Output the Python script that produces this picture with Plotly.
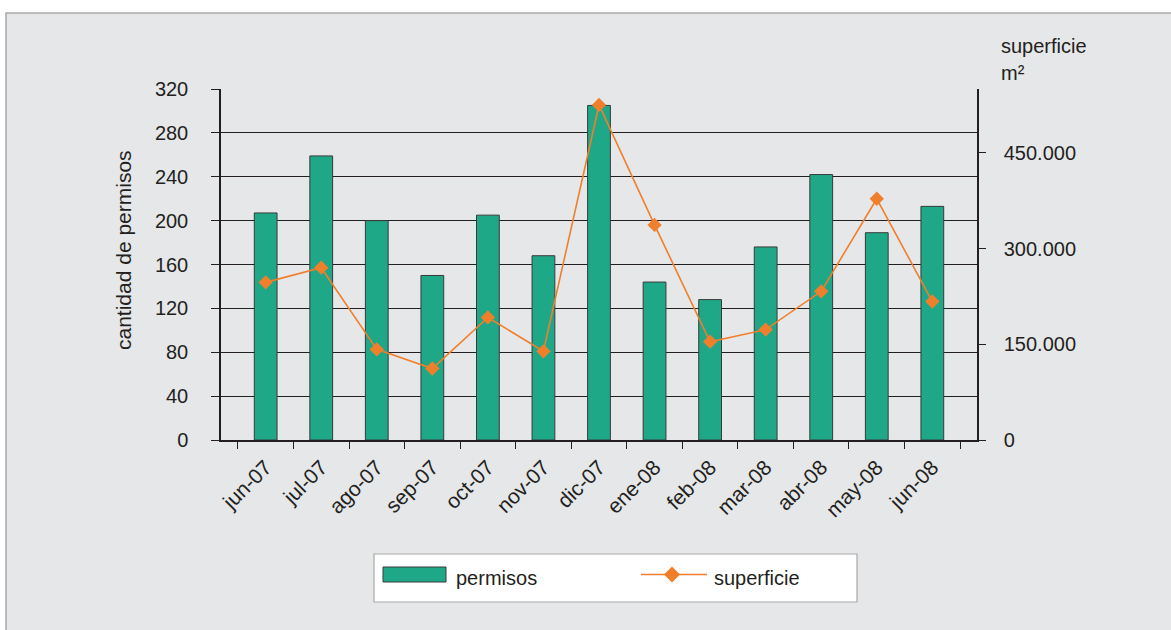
import plotly.graph_objects as go

months = ["jun-07", "jul-07", "ago-07", "sep-07", "oct-07", "nov-07", "dic-07",
          "ene-08", "feb-08", "mar-08", "abr-08", "may-08", "jun-08"]
permisos = [207, 259, 200, 150, 205, 168, 305, 144, 128, 176, 242, 189, 213]
superficie = [247000, 270000, 142000, 112000, 192000, 139000, 525000,
              337000, 154000, 173000, 233000, 378000, 217000]
left_ticks = [0, 40, 80, 120, 160, 200, 240, 280, 320]
right_ticks = [0, 150000, 300000, 450000]

W, H = 1171, 630
L, R, T, B = 221, 977, 89, 440
PW, PH = R - L, B - T

def px(x):
    return (x - L) / PW

def py(y):
    return (B - y) / PH

DARK = "#231f20"
GREEN = "#1fa887"
ORANGE = "#f07f2c"
FONT = "Liberation Sans, Arial, sans-serif"
FS = 20

fig = go.Figure()
fig.add_trace(go.Bar(
    x=months, y=permisos, name="permisos",
    marker=dict(color=GREEN, line=dict(color="#3a3a3a", width=1)),
    yaxis="y", showlegend=False,
))
fig.add_trace(go.Scatter(
    x=months, y=superficie, name="superficie", mode="lines+markers",
    line=dict(color=ORANGE, width=1.6),
    marker=dict(symbol="diamond", size=11, color=ORANGE),
    yaxis="y2", showlegend=False,
))

shapes = [
    # outer grey panel
    dict(type="rect", xref="paper", yref="paper", layer="below",
         x0=px(6), x1=px(1190), y0=py(13), y1=py(650),
         fillcolor="#e6e7e9", line=dict(color="#a9a9a9", width=1.5)),
    # legend box
    dict(type="rect", xref="paper", yref="paper",
         x0=px(374), x1=px(857), y0=py(554), y1=py(602),
         fillcolor="white", line=dict(color="#a9a9a9", width=1.2)),
    # legend bar symbol
    dict(type="rect", xref="paper", yref="paper",
         x0=px(383), x1=px(446), y0=py(567), y1=py(582),
         fillcolor=GREEN, line=dict(color="#3a3a3a", width=1)),
    # legend line symbol
    dict(type="line", xref="paper", yref="paper",
         x0=px(641), x1=px(707), y0=py(574.5), y1=py(574.5),
         line=dict(color=ORANGE, width=1.6)),
    # legend diamond
    dict(type="path", xref="paper", yref="paper",
         path="M {a},{b} L {c},{d} L {e},{f} L {g},{h} Z".format(
             a=px(672 - 8), b=py(574.5), c=px(672), d=py(574.5 - 8),
             e=px(672 + 8), f=py(574.5), g=px(672), h=py(574.5 + 8)),
         fillcolor=ORANGE, line=dict(color=ORANGE, width=0)),
]

annotations = [
    dict(text="cantidad de permisos", xref="paper", yref="paper",
         x=px(123), y=py(250), xanchor="center", yanchor="middle",
         textangle=-90, showarrow=False,
         font=dict(size=21, color=DARK, family=FONT)),
    dict(text="superficie", xref="paper", yref="paper",
         x=px(999), y=py(46), xanchor="left", yanchor="middle",
         showarrow=False, font=dict(size=FS, color=DARK, family=FONT)),
    dict(text="m²", xref="paper", yref="paper",
         x=px(999), y=py(73), xanchor="left", yanchor="middle",
         showarrow=False, font=dict(size=FS, color=DARK, family=FONT)),
    dict(text="permisos", xref="paper", yref="paper",
         x=px(454), y=py(578), xanchor="left", yanchor="middle",
         showarrow=False, font=dict(size=FS, color=DARK, family=FONT)),
    dict(text="superficie", xref="paper", yref="paper",
         x=px(712), y=py(578), xanchor="left", yanchor="middle",
         showarrow=False, font=dict(size=FS, color=DARK, family=FONT)),
]

fig.update_layout(
    width=W, height=H,
    margin=dict(l=L, r=W - R, t=T, b=H - B, pad=0),
    paper_bgcolor="white", plot_bgcolor="white",
    font=dict(family=FONT, size=FS, color=DARK),
    separators=",.",
    bargap=0.59,
    showlegend=False,
    shapes=shapes,
    annotations=annotations,
    xaxis=dict(
        type="category", tickangle=-45, tickson="boundaries",
        ticks="outside", ticklen=7, tickcolor=DARK, tickwidth=1.2,
        showline=True, linecolor=DARK, linewidth=1.5,
        showgrid=False, ticklabelstandoff=5,
        tickfont=dict(size=21, color=DARK),
    ),
    yaxis=dict(
        range=[0, 320], tickvals=left_ticks,
        ticks="outside", ticklen=8, tickcolor=DARK, tickwidth=1.2,
        showline=True, linecolor=DARK, linewidth=1.5,
        showgrid=True, gridcolor=DARK, gridwidth=1.2, zeroline=False,
        ticklabelstandoff=19, tickfont=dict(size=FS, color=DARK),
    ),
    yaxis2=dict(
        range=[0, 550000], tickvals=right_ticks, tickformat=",d",
        overlaying="y", side="right",
        ticks="outside", ticklen=7, tickcolor=DARK, tickwidth=1.2,
        showline=True, linecolor=DARK, linewidth=1.5,
        showgrid=False, zeroline=False,
        ticklabelstandoff=14, tickfont=dict(size=FS, color=DARK),
    ),
)

fig.write_html("out.html", config={"displayModeBar": False},
               post_script="document.body.style.margin='0';document.body.style.padding='0';")
